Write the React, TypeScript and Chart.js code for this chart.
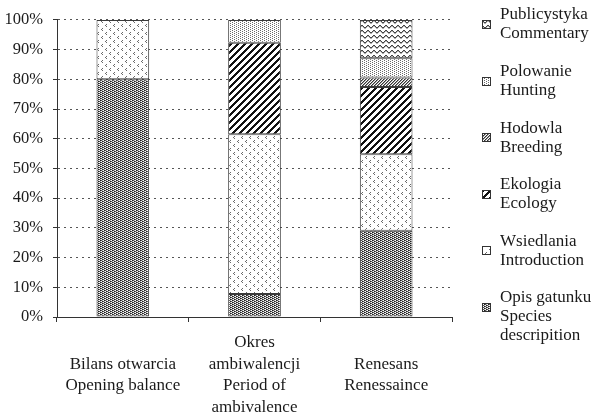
import React, { useEffect, useRef } from "react";
import { Chart, registerables } from "chart.js";

Chart.register(...registerables);

const categories = [
  ["", "Bilans otwarcia", "Opening balance"],
  ["Okres", "ambiwalencji", "Period of", "ambivalence"],
  ["", "Renesans", "Renessaince"],
];
const yTicks = [0, 10, 20, 30, 40, 50, 60, 70, 80, 90, 100];

const opisGatunku = [80, 7.7, 29.0];
const wsiedlania = [20, 53.8, 25.8];
const ekologia = [null, 30.8, 22.6];
const hodowla = [null, null, 3.2];
const polowanie = [null, 7.7, 6.5];
const publicystyka = [null, null, 12.9];

const seriesNames = [
  ["Opis gatunku", "Species", "descripition"],
  ["Wsiedlania", "Introduction"],
  ["Ekologia", "Ecology"],
  ["Hodowla", "Breeding"],
  ["Polowanie", "Hunting"],
  ["Publicystyka", "Commentary"],
];

function makePattern(w: number, h: number, fn: (x: number, y: number) => string | null) {
  const c = document.createElement("canvas");
  c.width = w;
  c.height = h;
  const g = c.getContext("2d")!;
  g.fillStyle = "#ffffff";
  g.fillRect(0, 0, w, h);
  for (let y = 0; y < h; y++) {
    for (let x = 0; x < w; x++) {
      const col = fn(x, y);
      if (col) {
        g.fillStyle = col;
        g.fillRect(x, y, 1, 1);
      }
    }
  }
  return g.createPattern(c, "repeat")!;
}

function buildPatterns() {
  const opis = makePattern(4, 2, (x, y) => {
    const v = (x + (y === 1 ? 2 : 0)) % 4;
    return v === 0 ? "#1e1e1e" : v === 1 ? "#555555" : v === 2 ? "#b8b8b8" : null;
  });
  const wsied = makePattern(8, 8, (x, y) => {
    const pts = [[2, 0], [1, 1], [2, 2], [6, 4], [5, 5], [6, 6]];
    return pts.some((p) => p[0] === x && p[1] === y) ? "#6a6a6a" : null;
  });
  const eko = makePattern(7, 7, (x, y) => ((x + y) % 7 < 3 ? "#111111" : null));
  const hod = makePattern(3, 3, (x, y) => {
    const v = (x + y) % 3;
    return v === 0 ? "#333333" : v === 1 ? "#9a9a9a" : null;
  });
  const pol = makePattern(4, 2, (x, y) =>
    (x === 0 && y === 0) || (x === 2 && y === 1) ? "#6a6a6a" : null
  );
  const wave = [1, 0, 0, 1, 2, 2];
  const pub = makePattern(6, 5, (x, y) =>
    y === wave[x] ? "#444444" : y === wave[x] + 1 ? "#b0b0b0" : null
  );
  return [opis, wsied, eko, hod, pol, pub];
}

const FONT = "'Liberation Serif', 'DejaVu Serif', serif";

export default function App() {
  const ref = useRef<HTMLCanvasElement | null>(null);

  useEffect(() => {
    const canvas = ref.current;
    if (!canvas) return;
    const pats = buildPatterns();
    const values = [opisGatunku, wsiedlania, ekologia, hodowla, polowanie, publicystyka];

    const legendPlugin = {
      id: "customLegend",
      afterDraw(chart: any) {
        const ctx = chart.ctx as CanvasRenderingContext2D;
        ctx.save();
        ctx.font = `17px ${FONT}`;
        ctx.fillStyle = "#1a1a1a";
        ctx.textBaseline = "middle";
        ctx.textAlign = "left";
        const order = [5, 4, 3, 2, 1, 0];
        order.forEach((di, i) => {
          const y0 = 15 + i * 56.6;
          const lines = seriesNames[di];
          lines.forEach((t, li) => ctx.fillText(t, 500, y0 + li * 19));
          const my = Math.round(y0 + 9.5 - 4.5);
          ctx.fillStyle = pats[di];
          ctx.fillRect(482, my, 9, 9);
          ctx.strokeStyle = "#333";
          ctx.lineWidth = 1;
          ctx.strokeRect(482.5, my + 0.5, 8, 8);
          ctx.fillStyle = "#1a1a1a";
        });
        ctx.restore();
      },
    };

    const chart = new Chart(canvas, {
      type: "bar",
      data: {
        labels: categories,
        datasets: values.map((v, i) => ({
          label: seriesNames[i].join(" "),
          data: v,
          backgroundColor: pats[i],
          borderColor: "#3a3a3a",
          borderWidth: 1,
          borderSkipped: false,
          barPercentage: 0.4,
          categoryPercentage: 1,
        })),
      },
      options: {
        responsive: false,
        animation: false,
        devicePixelRatio: 1,
        layout: { padding: { top: 12, right: 143, bottom: 0, left: 0 } },
        plugins: {
          legend: { display: false },
          tooltip: { enabled: false },
          title: { display: false },
        },
        scales: {
          x: {
            stacked: true,
            afterFit: (s: any) => {
              s.height = 101;
            },
            grid: {
              display: true,
              offset: true,
              drawOnChartArea: false,
              drawTicks: true,
              tickLength: 5,
              tickColor: "#333",
            },
            border: { display: true, color: "#333", width: 1 },
            ticks: {
              color: "#1a1a1a",
              padding: 10,
              maxRotation: 0,
              autoSkip: false,
              font: { family: FONT, size: 17, lineHeight: 1.27 },
            },
          },
          y: {
            stacked: true,
            min: 0,
            max: 100,
            afterFit: (s: any) => {
              s.width = 57;
            },
            afterBuildTicks: (s: any) => {
              s.ticks = yTicks.map((v) => ({ value: v }));
            },
            grid: {
              color: "#555",
              lineWidth: 1,
              drawTicks: true,
              tickLength: 4,
              tickColor: "#333",
            },
            border: { display: true, color: "#333", width: 1, dash: [2, 4] },
            ticks: {
              color: "#1a1a1a",
              padding: 10,
              callback: (v: any) => `${v}%`,
              font: { family: FONT, size: 16.5 },
            },
          },
        },
      },
      plugins: [legendPlugin],
    });
    return () => chart.destroy();
  }, []);

  return (
    <div style={{ position: "fixed", left: 0, top: 0, width: 595, height: 418, background: "#fff" }}>
      <canvas ref={ref} width={595} height={418} style={{ width: 595, height: 418 }} />
    </div>
  );
}
